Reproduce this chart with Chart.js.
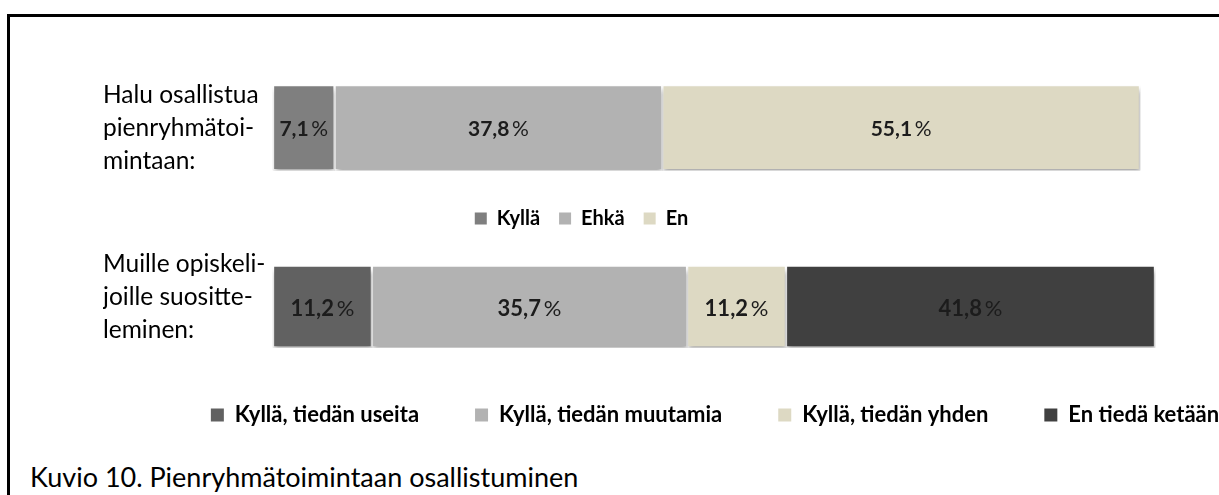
<!DOCTYPE html>
<html>
<head>
  <title>Kuvio 10</title>
  <script src="https://cdn.jsdelivr.net/npm/chart.js"></script>
  <style>
    html, body { margin: 0; padding: 0; background: #fff; overflow: hidden; width: 1219px; height: 495px; }
    #frame { position: absolute; left: 7px; top: 14px; width: 1400px; height: 600px;
             border-top: 3px solid #000; border-left: 3px solid #000; }
    canvas { position: absolute; left: 0; }
    #c1 { top: 0; }
    #c2 { top: 196px; }
    #caption { position: absolute; left: 30px; top: 461px; font: 27px Lato, sans-serif; line-height: 32px; color: #000; }
  </style>
</head>
<body>
  <div id="frame"></div>
  <canvas id="c1" width="1163" height="242"></canvas>
  <canvas id="c2" width="1430" height="235"></canvas>
  <div id="caption">Kuvio 10. Pienryhmätoimintaan osallistuminen</div>

  <script>
    // chart 1
    const halukategoria = [['Halu osallistua', 'pienryhmätoi-', 'mintaan:']];
    const haluSarjat = ['Kyllä', 'Ehkä', 'En'];
    const haluArvot = [7.1, 37.8, 55.1];
    const haluVarit = ['#7f7f7f', '#b2b2b2', '#ddd9c3'];

    // chart 2
    const suosKategoria = [['Muille opiskeli-', 'joille suositte-', 'leminen:']];
    const suosSarjat = ['Kyllä, tiedän useita', 'Kyllä, tiedän muutamia', 'Kyllä, tiedän yhden', 'En tiedä ketään'];
    const suosArvot = [11.2, 35.7, 11.2, 41.8];
    const suosVarit = ['#616161', '#b2b2b2', '#ddd9c3', '#404040'];

    const fmt = v => v.toFixed(1).replace('.', ',');

    // varjo palkkien alle + prosenttiarvot palkkien keskelle
    const barDeco = {
      id: 'barDeco',
      beforeDatasetsDraw(chart) {
        const c = chart.ctx;
        c.save();
        c.shadowColor = 'rgba(0,0,0,0.35)';
        c.shadowBlur = 5;
        c.shadowOffsetX = 1;
        c.shadowOffsetY = 4;
      },
      afterDatasetsDraw(chart, args, o) {
        const c = chart.ctx;
        c.restore();
        c.save();
        c.textBaseline = 'middle';
        c.textAlign = 'left';
        c.fillStyle = '#1c1c1c';
        const fb = 'bold ' + o.size + 'px Lato, sans-serif';
        const fr = o.size + 'px Lato, sans-serif';
        chart.data.datasets.forEach((ds, i) => {
          chart.getDatasetMeta(i).data.forEach((el, j) => {
            const p = el.getProps(['x', 'y', 'base'], true);
            const num = fmt(ds.data[j]);
            c.font = fb;
            const w1 = c.measureText(num).width;
            c.font = fr;
            const w2 = c.measureText('\u2009%').width;
            const x = (p.x + p.base) / 2 - (w1 + w2) / 2;
            c.font = fb;
            c.fillText(num, x, p.y + 2);
            c.font = fr;
            c.fillText('\u2009%', x + w1, p.y + 2);
          });
        });
        c.restore();
      }
    };

    function makeChart(id, labels, names, values, colors, opts) {
      const total = values.reduce((a, b) => a + b, 0);
      return new Chart(document.getElementById(id), {
        type: 'bar',
        data: {
          labels: labels,
          datasets: names.map((n, i) => ({
            label: n,
            data: [values[i]],
            backgroundColor: colors[i],
            borderColor: '#ffffff',
            borderWidth: 1.5,
            borderSkipped: false,
            barThickness: opts.thickness,
            clip: false
          }))
        },
        options: {
          indexAxis: 'y',
          responsive: false,
          animation: false,
          layout: { padding: { top: opts.top, left: 0, right: 0, bottom: 0 } },
          scales: {
            x: { stacked: true, min: 0, max: total, display: false },
            y: {
              stacked: true,
              grid: { display: false },
              border: { display: false },
              ticks: {
                crossAlign: 'far',
                labelOffset: opts.labelOffset,
                color: '#000',
                font: { family: 'Lato', size: 24.5, lineHeight: 1.35 }
              },
              afterFit: s => { s.width = 170; }
            },
            padL: {
              type: 'linear', position: 'left', weight: 10,
              grid: { display: false }, border: { display: false }, ticks: { display: false },
              afterFit: s => { s.width = 103; }
            },
            padR: {
              type: 'linear', position: 'right',
              grid: { display: false }, border: { display: false }, ticks: { display: false },
              afterFit: s => { s.width = opts.right; }
            }
          },
          plugins: {
            tooltip: { enabled: false },
            barDeco: { size: opts.valueSize },
            legend: {
              position: 'bottom',
              labels: {
                boxWidth: opts.box,
                boxHeight: opts.box,
                padding: opts.gap,
                color: '#000',
                font: { family: 'Lato', size: opts.legendSize, weight: 'bold' },
                generateLabels: c => Chart.defaults.plugins.legend.labels.generateLabels(c)
                  .map(l => Object.assign(l, { lineWidth: 0 }))
              }
            }
          }
        },
        plugins: [barDeco]
      });
    }

    makeChart('c1', halukategoria, haluSarjat, haluArvot, haluVarit,
      { thickness: 85, top: 66, right: 23, gap: 19, box: 12, legendSize: 20, valueSize: 21, labelOffset: 0 });
    makeChart('c2', suosKategoria, suosSarjat, suosArvot, suosVarit,
      { thickness: 82, top: 69, right: 275, gap: 56, box: 13, legendSize: 22, valueSize: 22, labelOffset: -9 });
  </script>
</body>
</html>
